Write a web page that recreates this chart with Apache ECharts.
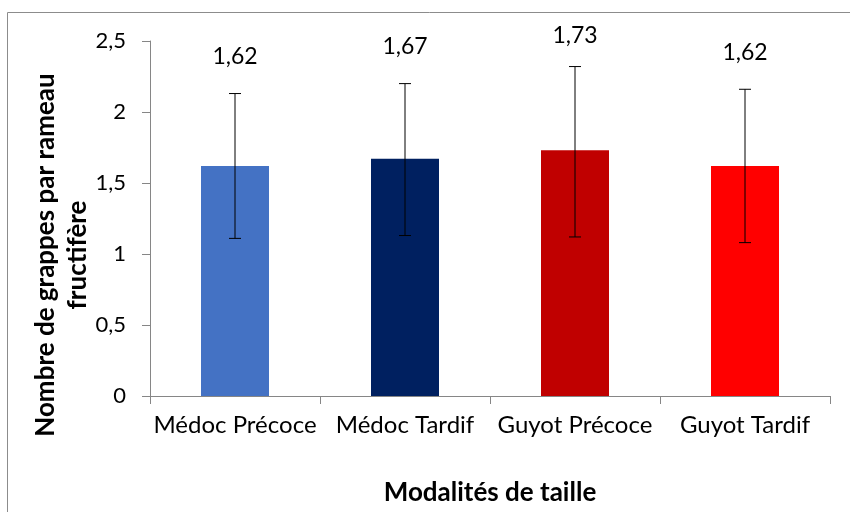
<!DOCTYPE html>
<html>
<head>
<meta charset="utf-8">
<script src="https://cdn.jsdelivr.net/npm/echarts@6/dist/echarts.min.js"></script>
<style>html,body{margin:0;padding:0;background:#fff}#c{width:850px;height:512px}</style>
</head>
<body>
<div id="c"></div>
<script>
const categories = ['Médoc Précoce', 'Médoc Tardif', 'Guyot Précoce', 'Guyot Tardif'];
const means = [1.62, 1.67, 1.73, 1.62];
const errUpper = [2.13, 2.20, 2.32, 2.16];
const errLower = [1.11, 1.13, 1.12, 1.08];
const valueLabels = ['1,62', '1,67', '1,73', '1,62'];
const yTicks = [0, 0.5, 1, 1.5, 2, 2.5];
const barColors = ['#4472C4', '#002060', '#C00000', '#FF0000'];
const yTitle = 'Nombre de grappes par rameau\nfructifère';
const xTitle = 'Modalités de taille';

const FONT = 'Lato, "Open Sans", sans-serif';
const chart = echarts.init(document.getElementById('c'), null, {renderer: 'canvas'});

const errData = categories.map((c, i) => [i, errLower[i], errUpper[i], valueLabels[i]]);

chart.setOption({
  animation: false,
  graphic: [{
    type: 'rect', shape: {x: 7.5, y: 12.5, width: 900, height: 600},
    style: {fill: 'none', stroke: '#8c8c8c', lineWidth: 1}, z: -1
  }, {
    type: 'text', x: 62, y: 255, rotation: Math.PI / 2,
    style: {text: yTitle, font: 'bold 26px ' + FONT, lineHeight: 32, fill: '#000',
      align: 'center', verticalAlign: 'middle'}
  }],
  grid: {left: 150, right: 20, top: 41, bottom: 116, containLabel: false},
  xAxis: {
    type: 'category', data: categories,
    axisLine: {lineStyle: {color: '#868686', width: 1}},
    axisTick: {show: true, length: 8, lineStyle: {color: '#868686'}},
    axisLabel: {color: '#000', fontFamily: FONT, fontSize: 24, margin: 17, interval: 0},
    name: xTitle, nameLocation: 'middle', nameGap: 84,
    nameTextStyle: {color: '#000', fontFamily: FONT, fontSize: 26, fontWeight: 'bold'}
  },
  yAxis: {
    type: 'value', min: 0, max: 2.5, interval: 0.5,
    axisLine: {show: true, lineStyle: {color: '#868686', width: 1}},
    axisTick: {show: true, length: 8, lineStyle: {color: '#868686'}},
    splitLine: {show: false},
    axisLabel: {color: '#000', fontFamily: FONT, fontSize: 22, margin: 24,
      formatter: v => String(v).replace('.', ',')}
  },
  series: [{
    type: 'bar', data: means.map((v, i) => ({value: v, itemStyle: {color: barColors[i]}})),
    barWidth: '40%'
  }, {
    type: 'custom', data: errData, z: 10,
    renderItem: function (params, api) {
      const x = api.coord([api.value(0), 0])[0];
      const lo = api.coord([api.value(0), api.value(1)])[1];
      const hi = api.coord([api.value(0), api.value(2)])[1];
      const hw = 6;
      return {type: 'group', children: [
        {type: 'line', shape: {x1: x, y1: hi, x2: x, y2: lo}, style: {stroke: '#000', lineWidth: 1}},
        {type: 'line', shape: {x1: x - hw, y1: hi, x2: x + hw, y2: hi}, style: {stroke: '#000', lineWidth: 1}},
        {type: 'line', shape: {x1: x - hw, y1: lo, x2: x + hw, y2: lo}, style: {stroke: '#000', lineWidth: 1}},
        {type: 'text', x: x, y: Math.max(hi - 37, 36), style: {text: errData[params.dataIndex][3], fill: '#000',
          font: '23px ' + FONT, align: 'center', verticalAlign: 'middle'}}
      ]};
    }
  }]
});
</script>
</body>
</html>
